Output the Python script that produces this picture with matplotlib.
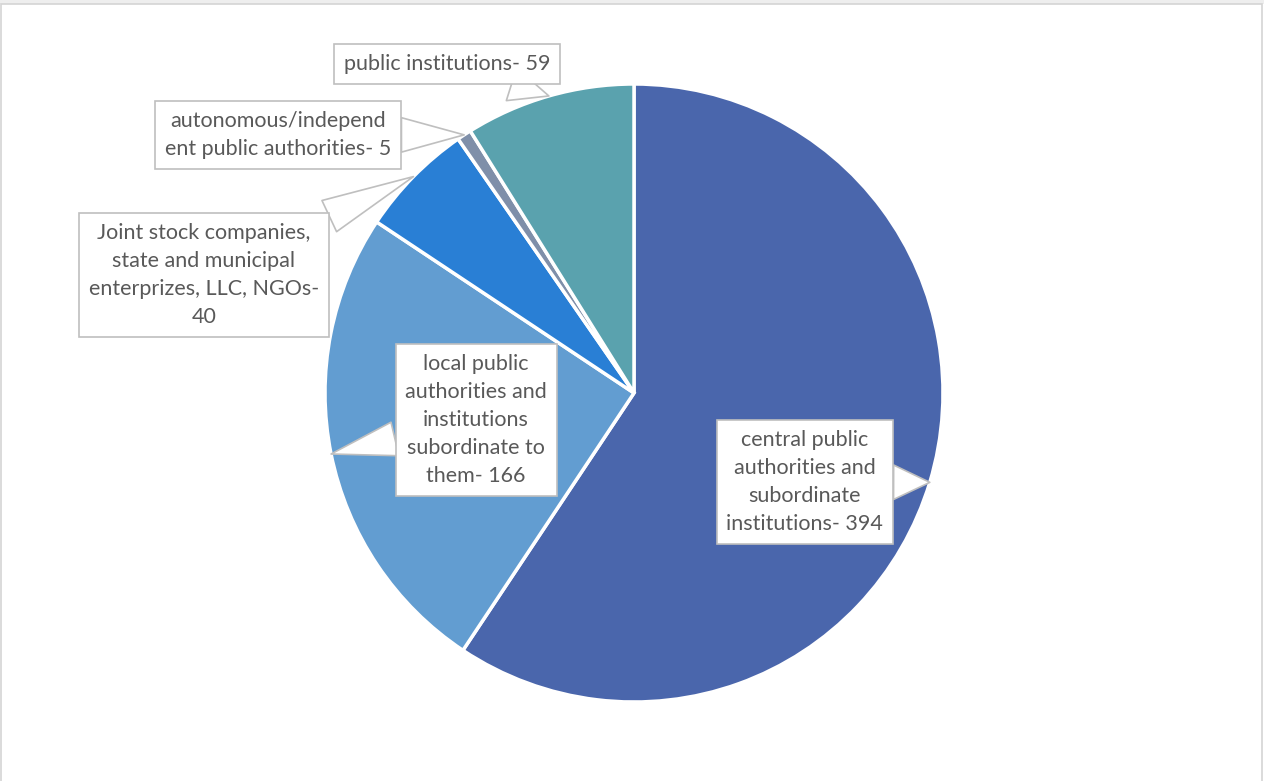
import numpy as np
import matplotlib.pyplot as plt
from matplotlib.patches import Rectangle

# data
labels = ['central public\nauthorities and\nsubordinate\ninstitutions- 394',
          'local public\nauthorities and\ninstitutions\nsubordinate to\nthem- 166',
          'Joint stock companies,\nstate and municipal\nenterprizes, LLC, NGOs-\n40',
          'autonomous/independ\nent public authorities- 5',
          'public institutions- 59']
values = [394, 166, 40, 5, 59]
colors = ['#4A66AC', '#629DD1', '#297FD5', '#7F8FA9', '#5AA2AE']

# where the label boxes sit (data units, pie radius = 1)
label_pos = [(0.553, -0.288), (-0.511, -0.087), (-1.392, 0.382),
             (-1.152, 0.835), (-0.605, 1.065)]

W, H = 1264, 781
fig = plt.figure(figsize=(W / 100, H / 100), dpi=100)

# window frame
fig.patches.append(Rectangle((0, 1 - 4 / H), 1, 4 / H, transform=fig.transFigure,
                             facecolor='#EEEEEE', edgecolor='none', zorder=-2))
fig.patches.append(Rectangle((1 / W, -0.01), (W - 3) / W, 1 - 4 / H + 0.01,
                             transform=fig.transFigure, facecolor='white',
                             edgecolor='#D4D4D4', lw=1.2, zorder=-1))

cx, cy, r = 634, 393, 309
ax = fig.add_axes([(cx - r) / W, (H - cy - r) / H, 2 * r / W, 2 * r / H])
ax.set_zorder(1)

wedges, _ = ax.pie(values, colors=colors, startangle=90, counterclock=False,
                   radius=1, wedgeprops=dict(edgecolor='white', linewidth=2.5))
ax.set_xlim(-1, 1)
ax.set_ylim(-1, 1)
ax.set_aspect('equal')
ax.axis('off')

for w, lab, pos in zip(wedges, labels, label_pos):
    mid = np.deg2rad((w.theta1 + w.theta2) / 2)
    tip = (np.cos(mid), np.sin(mid))
    ax.annotate(lab, xy=tip, xytext=pos, ha='center', va='center',
                fontsize=15.5, family='Lato', color='#595959',
                linespacing=1.5, annotation_clip=False,
                bbox=dict(boxstyle='square,pad=0.45', fc='white', ec='#BFBFBF', lw=1.2),
                arrowprops=dict(arrowstyle='wedge,tail_width=1.6', fc='white',
                                ec='#BFBFBF', lw=1.2, shrinkA=0, shrinkB=0))

fig.savefig('out.png', dpi=100)
